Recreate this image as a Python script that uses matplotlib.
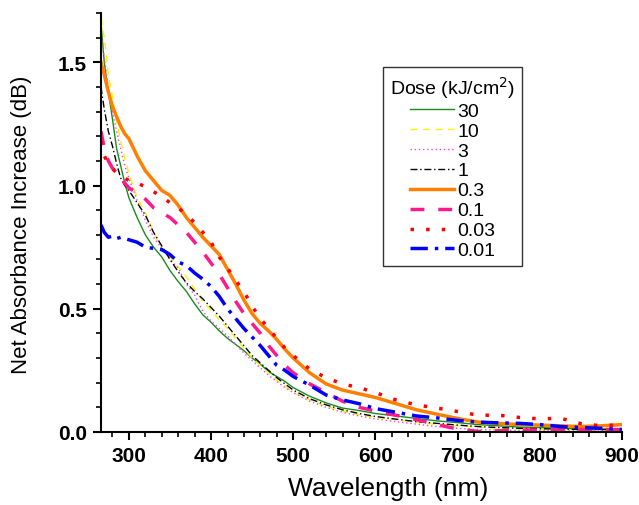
import matplotlib
matplotlib.use("Agg")
import matplotlib.pyplot as plt
from matplotlib.ticker import MultipleLocator

plt.rcParams['font.family'] = ['Liberation Sans', 'DejaVu Sans']

# wavelength grid (nm)
wl = [266, 270, 275, 280, 285, 290, 295, 300, 310, 320, 330, 340, 350, 360,
      370, 380, 390, 400, 410, 420, 430, 440, 450, 460, 470, 480, 490, 500,
      520, 540, 560, 580, 600, 625, 650, 675, 700, 725, 750, 775, 800, 825,
      850, 875, 900]

# net absorbance increase (dB) for each dose
d30 = [1.66, 1.50, 1.38, 1.27, 1.15, 1.08, 1.01, 0.95, 0.87, 0.80, 0.75, 0.71,
       0.655, 0.61, 0.57, 0.52, 0.475, 0.445, 0.41, 0.38, 0.355, 0.33, 0.30,
       0.275, 0.245, 0.225, 0.205, 0.18, 0.145, 0.118, 0.097, 0.087, 0.075,
       0.065, 0.055, 0.045, 0.038, 0.03, 0.025, 0.02, 0.018, 0.015, 0.012,
       0.012, 0.01]
d10 = [1.68, 1.60, 1.45, 1.36, 1.26, 1.18, 1.11, 1.05, 0.95, 0.89, 0.81, 0.745,
       0.71, 0.67, 0.63, 0.58, 0.53, 0.495, 0.455, 0.42, 0.38, 0.34, 0.30,
       0.27, 0.24, 0.21, 0.185, 0.16, 0.13, 0.105, 0.085, 0.07, 0.06, 0.05,
       0.04, 0.03, 0.025, 0.02, 0.015, 0.012, 0.01, 0.01, 0.008, 0.008, 0.01]
d3 = [1.62, 1.52, 1.40, 1.30, 1.22, 1.15, 1.08, 1.03, 0.94, 0.86, 0.79, 0.745,
      0.70, 0.665, 0.60, 0.555, 0.49, 0.45, 0.42, 0.39, 0.355, 0.32, 0.29,
      0.26, 0.23, 0.205, 0.18, 0.16, 0.125, 0.10, 0.08, 0.065, 0.053, 0.042,
      0.032, 0.022, 0.015, 0.01, 0.008, 0.006, 0.005, 0.005, 0.004, 0.005,
      0.005]
d1 = [1.40, 1.31, 1.22, 1.16, 1.09, 1.03, 1.00, 0.98, 0.93, 0.88, 0.81, 0.755,
      0.70, 0.65, 0.605, 0.57, 0.54, 0.505, 0.47, 0.43, 0.39, 0.35, 0.31,
      0.28, 0.25, 0.22, 0.195, 0.17, 0.135, 0.11, 0.09, 0.075, 0.063, 0.052,
      0.042, 0.035, 0.028, 0.022, 0.018, 0.015, 0.013, 0.012, 0.01, 0.01,
      0.01]
d03 = [1.50, 1.45, 1.38, 1.32, 1.28, 1.24, 1.21, 1.19, 1.12, 1.06, 1.02, 0.98,
       0.96, 0.92, 0.87, 0.83, 0.79, 0.755, 0.72, 0.66, 0.60, 0.535, 0.48,
       0.44, 0.41, 0.375, 0.335, 0.30, 0.24, 0.195, 0.17, 0.155, 0.14, 0.115,
       0.09, 0.072, 0.055, 0.04, 0.035, 0.03, 0.028, 0.025, 0.022, 0.025,
       0.03]
d01 = [1.22, 1.15, 1.10, 1.07, 1.05, 1.03, 1.01, 0.99, 0.97, 0.945, 0.91, 0.89,
       0.87, 0.84, 0.81, 0.77, 0.73, 0.685, 0.64, 0.585, 0.53, 0.48, 0.44,
       0.40, 0.35, 0.31, 0.27, 0.24, 0.195, 0.16, 0.125, 0.10, 0.085, 0.068,
       0.05, 0.03, 0.012, 0.002, 0.005, 0.008, 0.008, 0.008, 0.01, 0.01, 0.01]
d003 = [1.18, 1.12, 1.09, 1.07, 1.05, 1.04, 1.03, 1.02, 1.01, 0.995, 0.975,
        0.955, 0.93, 0.91, 0.88, 0.85, 0.81, 0.77, 0.71, 0.665, 0.615, 0.57,
        0.51, 0.46, 0.42, 0.38, 0.34, 0.31, 0.255, 0.22, 0.195, 0.18, 0.16,
        0.13, 0.11, 0.097, 0.083, 0.068, 0.068, 0.059, 0.053, 0.056, 0.034,
        0.025, 0.03]
d001 = [0.84, 0.81, 0.79, 0.795, 0.785, 0.79, 0.785, 0.78, 0.77, 0.75, 0.745,
        0.74, 0.72, 0.69, 0.675, 0.645, 0.62, 0.59, 0.55, 0.50, 0.46, 0.42,
        0.385, 0.35, 0.31, 0.27, 0.25, 0.225, 0.19, 0.15, 0.13, 0.115, 0.095,
        0.08, 0.065, 0.057, 0.047, 0.04, 0.037, 0.035, 0.03, 0.022, 0.018,
        0.015, 0.01]

labels = ['30', '10', '3', '1', '0.3', '0.1', '0.03', '0.01']
series = [d30, d10, d3, d1, d03, d01, d003, d001]
colors = ['#1a8c1a', '#f5f500', '#ee44ee', '#000000',
          '#ff8000', '#ff1a8c', '#ff0000', '#0000ff']
widths = [1.0, 1.0, 1.0, 1.0, 2.5, 2.5, 2.5, 2.5]
styles = ['-', (0, (5, 4)), (0, (1, 2)), (0, (5, 2, 1, 2)),
          '-', (0, (4, 4)), (0, (1, 3.5)), (0, (5, 2, 1, 2))]

fig = plt.figure(figsize=(6.39, 5.06), dpi=100)
ax = fig.add_axes([0.158, 0.1443, 0.8153, 0.828])

for y, lab, c, lw, ls in zip(series, labels, colors, widths, styles):
    ax.plot(wl, y, color=c, lw=lw, ls=ls, label=lab)

ax.set_xlim(266, 900)
ax.set_ylim(0, 1.7)
ax.xaxis.set_major_locator(MultipleLocator(100))
ax.xaxis.set_minor_locator(MultipleLocator(20))
ax.yaxis.set_major_locator(MultipleLocator(0.5))
ax.yaxis.set_minor_locator(MultipleLocator(0.1))
ax.yaxis.set_major_formatter(plt.FormatStrFormatter('%.1f'))

for s in ['top', 'right']:
    ax.spines[s].set_visible(False)
for s in ['left', 'bottom']:
    ax.spines[s].set_linewidth(1.5)

ax.tick_params(which='major', direction='out', length=6, width=1.5,
               labelsize=15, pad=4)
ax.tick_params(which='minor', direction='out', length=3.5, width=1.2)
for t in ax.get_xticklabels() + ax.get_yticklabels():
    t.set_fontweight('bold')

fig.text(388 / 639, 1 - 489 / 506, 'Wavelength (nm)', fontsize=19,
         ha='center', va='center')
fig.text(22 / 639, 1 - 225 / 506, 'Net Absorbance Increase (dB)',
         fontsize=16, rotation=90, ha='center', va='center')

leg = ax.legend(title='Dose (kJ/cm$^2$)', loc='upper left',
                bbox_to_anchor=(383 / 639, 1 - 68 / 506),
                bbox_transform=fig.transFigure, borderaxespad=0,
                fontsize=14, title_fontsize=14, handlelength=2.3,
                handletextpad=0.15, labelspacing=0.12, borderpad=0.35,
                fancybox=False, edgecolor='#333333', framealpha=1)
leg.get_frame().set_linewidth(1.0)

fig.savefig('out.png', dpi=100)
